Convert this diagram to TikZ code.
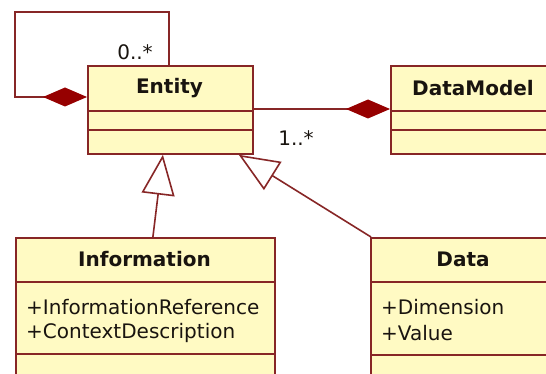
\documentclass[tikz,border=0pt]{standalone}
\usepackage{fontspec}
\setmainfont{DejaVu Sans}
\usetikzlibrary{arrows.meta}
\definecolor{umlline}{RGB}{135,38,38}
\definecolor{umlfill}{RGB}{255,250,195}
\definecolor{umldia}{RGB}{150,0,0}
\definecolor{umltext}{RGB}{25,20,15}
\tikzset{
  classbox/.style={draw=umlline, fill=umlfill, line width=1.8pt, rectangle, inner sep=0pt, anchor=north west},
  sepline/.style={draw=umlline, line width=1.8pt},
  titletext/.style={font=\fontsize{20}{24}\selectfont\bfseries, text=umltext, inner sep=0pt},
  attrtext/.style={font=\fontsize{20}{24}\selectfont, text=umltext, inner sep=0pt, anchor=west},
  multtext/.style={font=\fontsize{20}{24}\selectfont, text=umltext, inner sep=0pt},
  conn/.style={draw=umlline, line width=1.6pt},
  compo/.style={conn, -{Diamond[color=umldia, fill=umldia, length=44pt, width=19pt]}},
  gener/.style={conn, -{Triangle[open, length=40pt, width=33pt, line width=1.6pt]}}
}
\begin{document}
\begin{tikzpicture}[x=1pt, y=-1pt]
\clip (0,0) rectangle (546,374);
\fill[white] (0,0) rectangle (546,374);

% Entity
\node[classbox, minimum width=165pt, minimum height=88pt] (entity) at (87,65) {};
\draw[sepline] (87,111) -- (252,111);
\draw[sepline] (87,130) -- (252,130);
\node[titletext] (entityT) at (169.5,88) {Entity};

% DataModel
\node[classbox, minimum width=166pt, minimum height=88pt] (datamodel) at (390,65) {};
\draw[sepline] (390,111) -- (556,111);
\draw[sepline] (390,130) -- (556,130);
\node[titletext] (datamodelT) at (473,88) {DataModel};

% Information
\node[classbox, minimum width=259pt, minimum height=170pt] (info) at (15,237) {};
\draw[sepline] (15,282) -- (274,282);
\draw[sepline] (15,354) -- (274,354);
\node[titletext] (infoT) at (144.5,259) {Information};
\node[attrtext] (infoA1) at (26,307) {+InformationReference};
\node[attrtext] (infoA2) at (26,333) {+ContextDescription};

% Data
\node[classbox, minimum width=186pt, minimum height=170pt] (data) at (370,237) {};
\draw[sepline] (370,282) -- (556,282);
\draw[sepline] (370,355) -- (556,355);
\node[titletext] (dataT) at (463,259) {Data};
\node[attrtext] (dataA1) at (381,307) {+Dimension};
\node[attrtext] (dataA2) at (381,333) {+Value};

% self association (composition)
\coordinate (lt) at (15,12);
\coordinate (lb) at (15,97);
\draw[compo] ([xshift=-1.5pt]entity.north) |- (lt) -- (lb) -- (lb -| entity.west);
\node[multtext] (m0) at (135,52) {0..*};

% Entity - DataModel composition
\coordinate (av) at (0,109);
\draw[compo] (av -| entity.east) -- (av -| datamodel.west);
\node[multtext] (m1) at (296,138) {1..*};

% generalizations
\draw[gener] ([xshift=7.5pt]info.north) -- ([xshift=-7.5pt]entity.south);
\draw[gener] ([xshift=1pt]data.north west) -- ([xshift=-15pt]entity.south east);
\end{tikzpicture}
\end{document}
